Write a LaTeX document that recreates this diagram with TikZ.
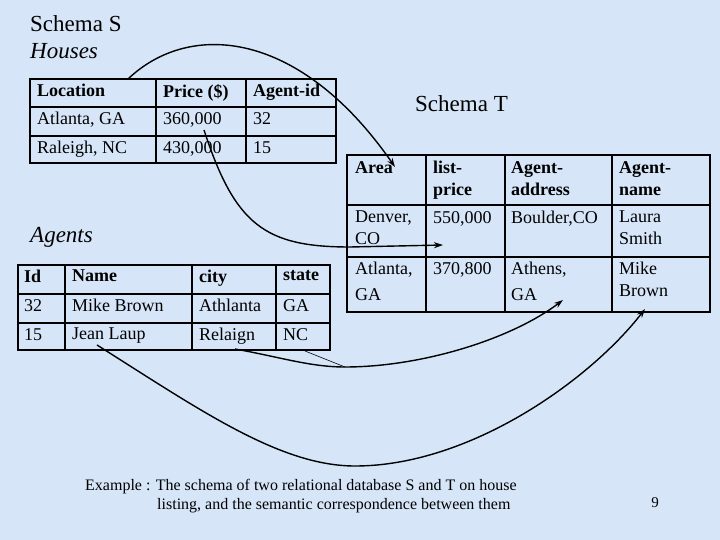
\documentclass[tikz,border=0pt]{standalone}
\usepackage{fontspec}
\setmainfont{Liberation Serif}[BoldFont={Liberation Serif Bold},ItalicFont={Liberation Serif Italic}]
\usetikzlibrary{arrows.meta}
\definecolor{bg}{RGB}{214,230,248}
\begin{document}
\begin{tikzpicture}[x=1pt,y=-1pt,
  tab/.style={line width=2.2pt},
  cell/.style={anchor=north west,inner sep=0pt,font=\fontsize{18}{21}\selectfont,align=left},
  hcell/.style={cell,font=\fontsize{18}{21}\selectfont\bfseries},
  link/.style={line width=1.4pt,-{Stealth[length=9pt,width=6pt]}}]
\fill[bg] (0,0) rectangle (720,540);
\useasboundingbox (0,0) rectangle (720,540);
\node[anchor=north west,inner sep=0pt,font=\fontsize{23}{26}\selectfont] (ss) at (30,15) {Schema S};
\node[anchor=north west,inner sep=0pt,font=\fontsize{23}{26}\selectfont\itshape] (hs) at (30,43) {Houses};
\node[anchor=north west,inner sep=0pt,font=\fontsize{23}{26}\selectfont\itshape] (ag) at (30,227) {Agents};
\node[anchor=north west,inner sep=0pt,font=\fontsize{23}{26}\selectfont] (st) at (415,95) {Schema T};
% Houses
\draw[tab] (30,79) rectangle (336,163);
\draw[tab] (30,107) -- (336,107) (30,136) -- (336,136) (156,79) -- (156,163) (246,79) -- (246,163);
\node[hcell] (h1) at (37,84) {Location};
\node[hcell] (h2) at (163,84) {Price (\$)};
\node[hcell] (h3) at (253,84) {Agent-id};
\node[cell] (h4) at (37,112) {Atlanta, GA};
\node[cell] (h5) at (163,112) {360,000};
\node[cell] (h6) at (253,112) {32};
\node[cell] (h7) at (37,141) {Raleigh, NC};
\node[cell] (h8) at (163,141) {430,000};
\node[cell] (h9) at (253,141) {15};
% Agents
\draw[tab] (18,265) rectangle (330,350);
\draw[tab] (18,294) -- (330,294) (18,323) -- (330,323) (65,265) -- (65,350) (192,265) -- (192,350) (276,265) -- (276,350);
\node[hcell] (a1) at (24,270) {Id};
\node[hcell] (a2) at (72,270) {Name};
\node[hcell] (a3) at (199,270) {city};
\node[hcell] (a4) at (283,270) {state};
\node[cell] (a5) at (24,299) {32};
\node[cell] (a6) at (72,299) {Mike Brown};
\node[cell] (a7) at (199,299) {Athlanta};
\node[cell] (a8) at (283,299) {GA};
\node[cell] (a9) at (24,328) {15};
\node[cell] (a10) at (72,328) {Jean Laup};
\node[cell] (a11) at (199,328) {Relaign};
\node[cell] (a12) at (283,328) {NC};
% T
\draw[tab] (347,155) rectangle (710,312);
\draw[tab] (347,205) -- (710,205) (347,257) -- (710,257) (426,155) -- (426,312) (505,155) -- (505,312) (612,155) -- (612,312);
\node[hcell] (t1) at (355,161) {Area};
\node[hcell,font=\fontsize{18}{22}\selectfont\bfseries] (t2) at (433,161) {list-\\price};
\node[hcell,font=\fontsize{18}{22}\selectfont\bfseries] (t3) at (511,161) {Agent-\\address};
\node[hcell,font=\fontsize{18}{22}\selectfont\bfseries] (t4) at (619,161) {Agent-\\name};
\node[cell,font=\fontsize{18}{22}\selectfont] (t5) at (355,211) {Denver,\\CO};
\node[cell] (t6) at (433,211) {550,000};
\node[cell] (t7) at (511,211) {Boulder,CO};
\node[cell,font=\fontsize{18}{22}\selectfont] (t8) at (619,211) {Laura\\Smith};
\node[cell,font=\fontsize{18}{26}\selectfont] (t9) at (355,262) {Atlanta,\\GA};
\node[cell] (t10) at (433,262) {370,800};
\node[cell,font=\fontsize{18}{26}\selectfont] (t11) at (511,262) {Athens,\\GA};
\node[cell,font=\fontsize{18}{22}\selectfont] (t12) at (619,262) {Mike\\Brown};
% coordinates
\coordinate (s1) at (128,79);
\coordinate (e1) at (395,167);
\coordinate (s2) at (204,130);
\coordinate (m2) at (350,247);
\coordinate (e2) at (443,245);
\coordinate (s3) at (235,349);
\coordinate (m3) at (345,367);
\coordinate (e3) at (563,300);
\coordinate (nc) at (305,351);
\coordinate (s4) at (97,345);
\coordinate (m4) at (355,466);
\coordinate (e4) at (645,309);
\draw[link] (s1) .. controls (190,20) and (300,30) .. (e1);
\draw[link] (s2) .. controls (235,225) and (265,247) .. (m2) -- (e2);
\draw[link] (s3) .. controls (280,357) and (310,367) .. (m3) .. controls (420,367) and (510,340) .. (e3);
\draw[line width=0.6pt] (nc) -- (m3);
\draw[link] (s4) .. controls (200,410) and (280,466) .. (m4) .. controls (470,466) and (590,380) .. (e4);
% caption
\node[anchor=north west,inner sep=0pt,font=\fontsize{16}{19}\selectfont,align=left] (cap) at (85,479) {Example : The schema of two relational database S and T on house\\\hspace*{72pt}listing, and the semantic correspondence between them};
\node[inner sep=0pt,font=\fontsize{15}{17}\selectfont] (pg) at (655,503) {9};
\end{tikzpicture}
\end{document}
